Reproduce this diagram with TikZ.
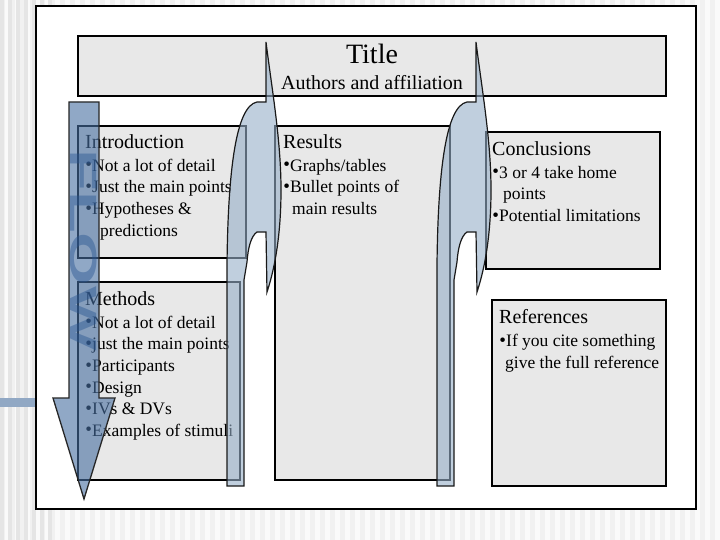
\documentclass[tikz,border=0pt]{standalone}
\usepackage{fontspec}
\setmainfont{Liberation Serif}
\newfontfamily\flowfont{Liberation Sans}
\usetikzlibrary{positioning}
\definecolor{boxgray}{RGB}{232,232,232}
\definecolor{flowblue}{RGB}{70,110,160}
\definecolor{turnblue}{RGB}{150,175,200}
\definecolor{letterblue}{RGB}{40,85,145}
\definecolor{barblue}{RGB}{145,168,196}
\newcommand{\hd}{\fontsize{20}{24}\selectfont}
\newcommand{\bul}{\makebox[7pt][c]{\raisebox{0.5pt}{\fontsize{19}{19}\selectfont •}}}
\begin{document}
\begin{tikzpicture}[x=1pt,y=-1pt,
	stripe/.style={fill=gray!11},
	slidebox/.style={draw,line width=1.6pt,fill=white,anchor=north west,inner sep=0pt,outer sep=0pt},
	panel/.style={draw,line width=1.6pt,fill=boxgray,anchor=north west,inner sep=0pt,outer sep=0pt},
	txt/.style={align=left,inner sep=0pt,font=\fontsize{17.5}{21.6}\selectfont},
	flowarrow/.style={fill=flowblue,fill opacity=0.6,draw=black!85,line width=1.3pt},
	uturn/.style={fill=turnblue,fill opacity=0.6,draw=black!90,line width=1.2pt}]
\useasboundingbox (0,0) rectangle (720,540);
\fill[gray!4] (0,0) rectangle (720,540);
\foreach \sx in {0,10,...,710}
	\fill[stripe] (\sx,0) rectangle ++(5,540);
\foreach \sx in {0,8,...,48}
	\fill[gray!20] (\sx,0) rectangle ++(4,540);
\fill[barblue] (0,398) rectangle (36,407);
\node[slidebox, minimum width=660pt, minimum height=503pt] (slide) at (36,6) {};
\node[panel, minimum width=588pt, minimum height=60pt] (titlebox) at (78,36) {};
\node[anchor=base, inner sep=0pt, font=\fontsize{28}{30}\selectfont] (title) at ([yshift=-28pt]titlebox.north) {Title};
\node[anchor=base, inner sep=0pt, font=\hd] (authors) at ([yshift=-54pt]titlebox.north) {Authors and affiliation};
\node[panel, minimum width=168pt, minimum height=132pt] (intro) at (78,126) {};
\node[panel, minimum width=175pt, minimum height=354pt] (results) at (275,126) {};
\node[panel, minimum width=162pt, minimum height=198pt] (methods) at (78,282) {};
\node[panel, minimum width=174pt, minimum height=137pt] (concl) at (486,132) {};
\node[panel, minimum width=174pt, minimum height=186pt] (refs) at (492,300) {};
\node[txt, below right=8.3pt and 7pt of intro.north west] (introtxt) {{\hd Introduction}\\[1.4pt]
	\bul Not a lot of detail\\ \bul Just the main points\\ \bul Hypotheses \&\\ \hspace*{15pt}predictions};
\node[txt, below right=8.3pt and 8pt of results.north west] (resultstxt) {{\hd Results}\\[1.4pt]
	\bul Graphs/tables\\ \bul Bullet points of\\ \hspace*{9pt}main results};
\node[txt, below right=9.3pt and 7pt of methods.north west] (methodstxt) {{\hd Methods}\\[1.4pt]
	\bul Not a lot of detail\\ \bul just the main points\\ \bul Participants\\ \bul Design\\ \bul IVs \& DVs\\ \bul Examples of stimuli};
\node[txt, below right=9.3pt and 6pt of concl.north west] (concltxt) {{\hd Conclusions}\\[1.4pt]
	\bul 3 or 4 take home\\ \hspace*{11pt}points\\ \bul Potential limitations};
\node[txt, below right=9.3pt and 7pt of refs.north west] (refstxt) {{\hd References}\\[1.4pt]
	\bul If you cite something\\ \hspace*{6pt}give the full reference};
\foreach \dx in {0,210}
	\draw[uturn, xshift=\dx pt] (227,486) -- (227,265)
		.. controls (228,170) and (236,106) .. (257,102) -- (266,102) -- (266,42)
		.. controls (272,90) and (281,140) .. (281,190)
		.. controls (281,230) and (276,265) .. (267,292) -- (266,232) -- (257,232)
		.. controls (251,236) and (248,248) .. (247,262) -- (244,280) -- (244,486) -- cycle;
\draw[flowarrow] (69,102) -- (99,102) -- (99,398) -- (115,398) -- (84,499) -- (53,398) -- (69,398) -- cycle;
\node[rotate=-90, inner sep=0pt, text=letterblue, text opacity=0.45, font=\flowfont\bfseries\fontsize{38}{38}\selectfont] (flow) at (84,250) {\scalebox{1.8}[1]{FLOW}};
\end{tikzpicture}
\end{document}
